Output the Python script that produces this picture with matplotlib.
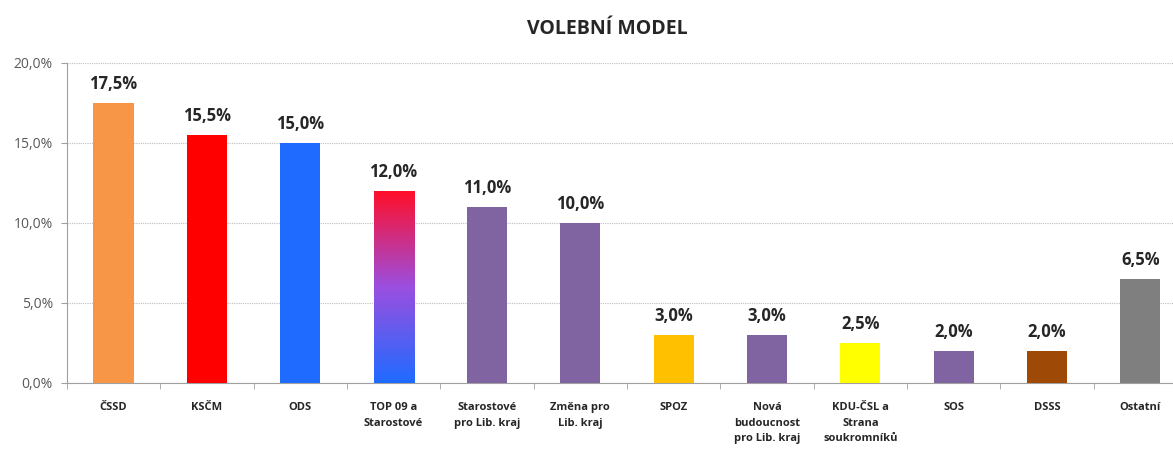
import numpy as np
import matplotlib
matplotlib.use("Agg")
import matplotlib.pyplot as plt
from matplotlib.colors import LinearSegmentedColormap

plt.rcParams["font.family"] = ["Open Sans", "DejaVu Sans"]

categories = [
    "ČSSD", "KSČM", "ODS", "TOP 09 a\nStarostové", "Starostové\npro Lib. kraj",
    "Změna pro\nLib. kraj", "SPOZ", "Nová\nbudoucnost\npro Lib. kraj",
    "KDU-ČSL a\nStrana\nsoukromníků", "SOS", "DSSS", "Ostatní",
]
values = [17.5, 15.5, 15.0, 12.0, 11.0, 10.0, 3.0, 3.0, 2.5, 2.0, 2.0, 6.5]
colors = [
    "#F79646", "#FF0000", "#1F6BFF", None, "#8064A2", "#8064A2",
    "#FFC000", "#8064A2", "#FFFF00", "#8064A2", "#9E4A06", "#7F7F7F",
]
yticks = [0, 5, 10, 15, 20]

fig = plt.figure(figsize=(11.73, 4.53), dpi=100)
ax = fig.add_axes([0.057, 0.155, 0.955, 0.706])

x = np.arange(len(categories))
bars = ax.bar(x, values, width=0.43, color=[c if c else "none" for c in colors],
              zorder=3)

# gradient bar for TOP 09
grad = LinearSegmentedColormap.from_list("top", ["#1F6BFF", "#9B4FE0", "#FF0F2A"])
b = bars[3]
img = ax.imshow(np.linspace(0, 1, 256).reshape(-1, 1), cmap=grad, origin="lower",
                aspect="auto", extent=[b.get_x(), b.get_x() + b.get_width(), 0, b.get_height()],
                zorder=3)
img.set_clip_path(b)

for xi, v in zip(x, values):
    ax.text(xi, v + 0.6, f"{v:.1f}%".replace(".", ","), ha="center", va="bottom",
            fontsize=12, fontweight="bold", color="#262626")

ax.set_xlim(-0.5, len(categories) - 0.5)
ax.set_ylim(0, 20)
ax.set_yticks(yticks)
ax.set_yticklabels([f"{t:.1f}%".replace(".", ",") for t in yticks], fontsize=10, color="#595959")
ax.set_xticks(x)
ax.set_xticklabels(categories, fontsize=8, fontweight="bold", color="#262626",
                   linespacing=1.55, va="top")
ax.tick_params(axis="x", length=0, pad=14)
ax.tick_params(axis="y", length=4, color="#A0A0A0", pad=6)
ax.set_xticks(np.arange(len(categories) + 1) - 0.5, minor=True)
ax.tick_params(axis="x", which="minor", length=4, color="#A0A0A0")

ax.grid(axis="y", linestyle=(0, (1, 1)), color="#BFBFBF", linewidth=0.8, zorder=0)
for s in ["top", "right"]:
    ax.spines[s].set_visible(False)
ax.spines["left"].set_color("#A0A0A0")
ax.spines["bottom"].set_color("#A0A0A0")

fig.text(0.518, 0.935, "VOLEBNÍ MODEL", ha="center", va="center", fontsize=14,
         fontweight="bold", color="#262626")

fig.savefig("out.png", dpi=100)
